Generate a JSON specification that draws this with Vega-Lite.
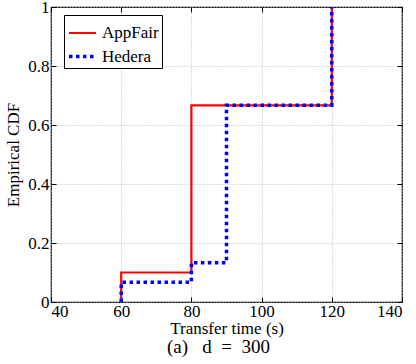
{
  "$schema": "https://vega.github.io/schema/vega-lite/v6.json",
  "width": 351,
  "height": 295,
  "autosize": {"type": "none"},
  "padding": {"left": 51, "top": 7, "right": 14, "bottom": 62},
  "background": "white",
  "config": {
    "view": {"stroke": "black", "strokeWidth": 1.2},
    "axis": {
      "labelColor": "black",
      "titleColor": "black",
      "titleFontWeight": "normal",
      "domain": false,
      "tickColor": "black",
      "tickSize": -5,
      "gridColor": "#bbbbbb",
      "gridDash": [1, 2],
      "gridWidth": 1,
      "labelOverlap": false
    }
  },
  "title": {
    "text": "(a)\u00a0\u00a0\u00a0d\u00a0\u00a0=\u00a0\u00a0300",
    "orient": "bottom",
    "anchor": "middle",
    "dx": -8,
    "font": "Liberation Serif",
    "fontSize": 19,
    "fontWeight": "normal",
    "color": "black",
    "offset": 2
  },
  "data": {
    "values": [
      {"series": "AppFair", "i": 0, "t": 60, "cdf": 0},
      {"series": "AppFair", "i": 1, "t": 60, "cdf": 0.1},
      {"series": "AppFair", "i": 2, "t": 80, "cdf": 0.1},
      {"series": "AppFair", "i": 3, "t": 80, "cdf": 0.6667},
      {"series": "AppFair", "i": 4, "t": 120, "cdf": 0.6667},
      {"series": "AppFair", "i": 5, "t": 120, "cdf": 1},
      {"series": "Hedera", "i": 0, "t": 60, "cdf": 0},
      {"series": "Hedera", "i": 1, "t": 60, "cdf": 0.0667},
      {"series": "Hedera", "i": 2, "t": 80, "cdf": 0.0667},
      {"series": "Hedera", "i": 3, "t": 80, "cdf": 0.1333},
      {"series": "Hedera", "i": 4, "t": 90, "cdf": 0.1333},
      {"series": "Hedera", "i": 5, "t": 90, "cdf": 0.6667},
      {"series": "Hedera", "i": 6, "t": 120, "cdf": 0.6667},
      {"series": "Hedera", "i": 7, "t": 120, "cdf": 1}
    ]
  },
  "layer": [
    {
      "mark": {"type": "line", "clip": true},
      "encoding": {
        "x": {
          "field": "t", "type": "quantitative",
          "scale": {"domain": [40, 140], "nice": false},
          "axis": {"values": [40, 60, 80, 100, 120, 140], "format": "d", "title": "Transfer time (s)", "titleFont": "Liberation Serif", "labelFont": "Liberation Serif", "labelFontSize": 17, "labelPadding": 6, "labelBaseline": "top", "titleFontSize": 17, "titlePadding": 1}
        },
        "y": {
          "field": "cdf", "type": "quantitative",
          "scale": {"domain": [0, 1], "nice": false},
          "axis": {"values": [0, 0.2, 0.4, 0.6, 0.8, 1], "format": "~g", "title": "Empirical CDF", "titleFont": "Liberation Serif", "labelFont": "Liberation Serif", "labelFontSize": 17, "labelPadding": 7, "titleFontSize": 17, "titlePadding": 5}
        },
        "order": {"field": "i", "type": "quantitative"},
        "color": {
          "field": "series", "type": "nominal",
          "scale": {"domain": ["AppFair", "Hedera"], "range": ["#ff0000", "#0000ff"]},
          "legend": {
            "title": null,
            "orient": "none",
            "legendX": 13,
            "legendY": 8,
            "strokeColor": "black",
            "fillColor": "white",
            "padding": 3,
            "labelFont": "Liberation Serif",
            "labelFontSize": 17,
            "labelColor": "black",
            "labelExpr": "datum.label + '\u2003\u2003\u2002'",
            "symbolType": "stroke",
            "symbolSize": 729,
            "symbolStrokeWidth": 2.5,
            "rowPadding": -2,
            "labelOffset": 4
          }
        },
        "strokeDash": {
          "field": "series", "type": "nominal",
          "scale": {"domain": ["AppFair", "Hedera"], "range": [[1, 0], [3.5, 3.5]]},
          "legend": null
        },
        "strokeWidth": {
          "field": "series", "type": "nominal",
          "scale": {"domain": ["AppFair", "Hedera"], "range": [2.2, 3.5]},
          "legend": null
        }
      }
    },
    {
      "mark": {"type": "point", "opacity": 0},
      "encoding": {
        "x": {"field": "t", "type": "quantitative", "axis": {"orient": "top", "values": [40, 60, 80, 100, 120, 140], "labels": false, "title": null, "grid": false}},
        "y": {"field": "cdf", "type": "quantitative", "axis": {"orient": "right", "values": [0, 0.2, 0.4, 0.6, 0.8, 1], "labels": false, "title": null, "grid": false}}
      }
    }
  ],
  "resolve": {"axis": {"x": "independent", "y": "independent"}}
}
